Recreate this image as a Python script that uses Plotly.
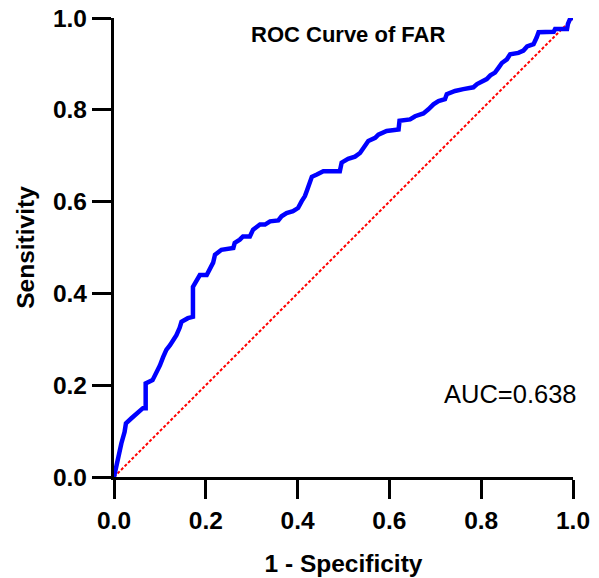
import plotly.graph_objects as go

# ROC curve points (1 - specificity, sensitivity)
fpr = [0.0, 0.006, 0.016, 0.023, 0.026, 0.038, 0.052, 0.063, 0.069, 0.069, 0.084, 0.092,
       0.100, 0.107, 0.114, 0.122, 0.129, 0.136, 0.143, 0.147, 0.161, 0.172, 0.172, 0.183,
       0.187, 0.202, 0.209, 0.216, 0.220, 0.234, 0.260, 0.263, 0.274, 0.281, 0.296, 0.303,
       0.318, 0.329, 0.340, 0.358, 0.365, 0.376, 0.390, 0.401, 0.409, 0.416, 0.421, 0.425,
       0.431, 0.442, 0.456, 0.492, 0.496, 0.510, 0.525, 0.536, 0.543, 0.554, 0.569, 0.576,
       0.594, 0.620, 0.622, 0.645, 0.656, 0.674, 0.685, 0.696, 0.707, 0.721, 0.725, 0.743,
       0.761, 0.783, 0.791, 0.801, 0.812, 0.820, 0.830, 0.838, 0.845, 0.856, 0.863, 0.881,
       0.892, 0.900, 0.914, 0.921, 0.925, 0.958, 0.961, 0.987, 0.989, 0.994, 1.0]
tpr = [0.0, 0.030, 0.073, 0.098, 0.117, 0.128, 0.139, 0.150, 0.150, 0.204, 0.211, 0.226,
       0.243, 0.261, 0.277, 0.287, 0.298, 0.309, 0.325, 0.338, 0.346, 0.349, 0.414, 0.436,
       0.440, 0.440, 0.456, 0.467, 0.484, 0.495, 0.499, 0.510, 0.517, 0.524, 0.524, 0.539,
       0.550, 0.550, 0.557, 0.559, 0.568, 0.575, 0.579, 0.586, 0.601, 0.612, 0.626, 0.641,
       0.654, 0.659, 0.666, 0.666, 0.685, 0.693, 0.698, 0.706, 0.717, 0.732, 0.739, 0.746,
       0.754, 0.757, 0.776, 0.779, 0.786, 0.792, 0.801, 0.812, 0.819, 0.823, 0.834, 0.841,
       0.845, 0.849, 0.856, 0.861, 0.867, 0.875, 0.881, 0.892, 0.902, 0.910, 0.921, 0.924,
       0.929, 0.938, 0.943, 0.958, 0.969, 0.970, 0.976, 0.976, 0.987, 0.999, 1.0]

ref_x = [0.0, 1.0]
ref_y = [0.0, 1.0]

tick_vals = [0.0, 0.2, 0.4, 0.6, 0.8, 1.0]
tick_text = ["0.0", "0.2", "0.4", "0.6", "0.8", "1.0"]

title_text = "ROC Curve of FAR"
auc_text = "AUC=0.638"

FONT = "Liberation Sans, Arial"

fig = go.Figure()
fig.add_trace(go.Scatter(x=ref_x, y=ref_y, mode="lines",
                         line=dict(color="#FF0000", width=2, dash="3px,2px"),
                         cliponaxis=False, hoverinfo="skip", showlegend=False))
fig.add_trace(go.Scatter(x=fpr, y=tpr, mode="lines",
                         line=dict(color="#0000FF", width=4.5),
                         cliponaxis=False, showlegend=False))

axis_common = dict(
    range=[0, 1], tickvals=tick_vals, ticktext=tick_text, automargin=False,
    showline=True, linecolor="black", linewidth=3.3,
    ticks="outside", ticklen=19, tickwidth=3.3, tickcolor="black",
    showgrid=False, zeroline=False, layer="below traces",
    tickfont=dict(family=FONT, size=24.5, color="black", weight="bold"),
)

fig.update_layout(
    width=599, height=578,
    margin=dict(l=114, r=26, t=18, b=101),
    paper_bgcolor="white", plot_bgcolor="white",
    xaxis=dict(**axis_common,
               title=dict(text="1 - Specificity", standoff=23,
                          font=dict(family=FONT, size=24.5, color="black", weight="bold"))),
    yaxis=dict(**axis_common,
               title=dict(text="Sensitivity", standoff=12,
                          font=dict(family=FONT, size=24.5, color="black", weight="bold"))),
    annotations=[
        dict(text=title_text, x=0.51, y=0.965, xref="paper", yref="paper",
             xanchor="center", yanchor="middle", showarrow=False,
             font=dict(family=FONT, size=22, color="black", weight="bold")),
        dict(text=auc_text, x=1.013, y=0.18, xref="paper", yref="paper",
             xanchor="right", yanchor="middle", showarrow=False,
             font=dict(family=FONT, size=25.5, color="black")),
    ],
)

fig.write_html("out.html", post_script="document.body.style.margin='0';",
               config={"displayModeBar": False})
